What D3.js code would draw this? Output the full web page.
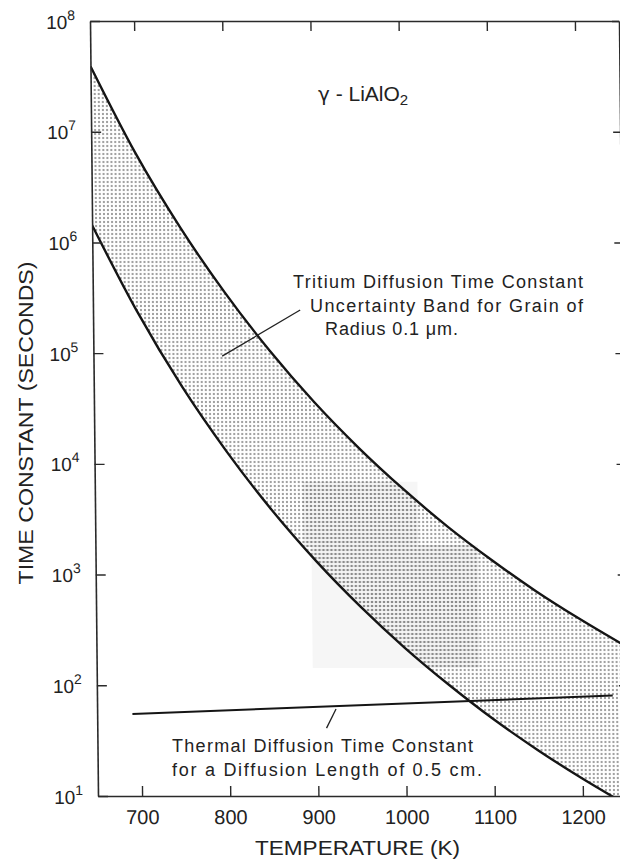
<!DOCTYPE html>
<html>
<head>
<meta charset="utf-8">
<script src="https://cdn.jsdelivr.net/npm/d3@7"></script>
<style>
  html, body { margin: 0; padding: 0; background: #fff; }
  svg { display: block; }
  text { font-family: "Liberation Sans", "DejaVu Sans", sans-serif; fill: #222; }
</style>
</head>
<body>
<svg id="chart" width="620" height="861"></svg>
<script>
// Temperature grid (K) for the tritium band edges
const temperatures = [650, 700, 750, 800, 850, 900, 950, 1000, 1050, 1100, 1150, 1200, 1250];
// Upper edge of the tritium diffusion time-constant band (s)
const tritiumUpper = [3.9e7, 6.4e6, 1.36e6, 3.5e5, 1.05e5, 3.6e4, 1.39e4, 5.9e3, 2.7e3, 1.34e3, 700, 390, 226];
// Lower edge of the band (s)
const tritiumLower = [1.43e6, 2.38e5, 5.0e4, 1.29e4, 3.87e3, 1.33e3, 513, 217, 100, 49, 25.8, 14.3, 8.3];
// Thermal diffusion time constant, 0.5 cm diffusion length
const thermalTemps = [690, 1235];
const thermalValues = [55, 81];
// Axis ticks
const xTicks = [700, 800, 900, 1000, 1100, 1200];
const yTicks = [1e1, 1e2, 1e3, 1e4, 1e5, 1e6, 1e7, 1e8];
const yExponents = ["1", "2", "3", "4", "5", "6", "7", "8"];
// Leader lines: [temperature, time constant] pairs
const bandLeader = [[796, 9.4e4], [885, 2.45e5]];
const thermalLeader = [[921, 61], [910, 41]];
// Faint grey toner patch over the middle of the band, [temperature, time constant]
const tonerPatch = [[886, 6.9e3], [1016, 6.9e3], [1016, 1.85e3], [1084, 1.85e3], [1084, 143],
                    [895, 143], [895, 1.77e3], [886, 1.77e3]];

const svg = d3.select("#chart");
const plotLeft = 98, plotRight = 627, plotTop = 21, plotBottom = 796;

const x = d3.scaleLinear().domain([650, 1250]).range([plotLeft, plotRight]);
const y = d3.scaleLog().domain([10, 1e8]).range([plotBottom, plotTop]);

// The drawing frame leans slightly, pivoting on the bottom axis
const lean = Math.atan(8 / 775) * 180 / Math.PI;
const g = svg.append("g")
  .attr("transform", `translate(0,${plotBottom}) skewX(${lean}) translate(0,${-plotBottom})`);

const defs = svg.append("defs");
defs.append("clipPath").attr("id", "plotClip")
  .append("rect").attr("x", plotLeft).attr("y", plotTop)
  .attr("width", plotRight - plotLeft).attr("height", plotBottom - plotTop);

const dots = defs.append("pattern").attr("id", "stipple")
  .attr("patternUnits", "userSpaceOnUse").attr("width", 4).attr("height", 4);
dots.append("circle").attr("cx", 2).attr("cy", 2).attr("r", 0.85).attr("fill", "#2a2a2a");

const dashes = defs.append("pattern").attr("id", "streaks")
  .attr("patternUnits", "userSpaceOnUse").attr("width", 4).attr("height", 4);
dashes.append("rect").attr("x", 0.5).attr("y", 1.5).attr("width", 3).attr("height", 1)
  .attr("fill", "#555").attr("opacity", 0.5);

const patchLine = d3.line().x(d => x(d[0])).y(d => y(d[1]));
defs.append("clipPath").attr("id", "patchClip")
  .append("path").attr("d", patchLine(tonerPatch) + "Z");

const band = temperatures.map((t, i) => ({ t, hi: tritiumUpper[i], lo: tritiumLower[i] }));
const bandArea = d3.area().x(d => x(d.t)).y0(d => y(d.lo)).y1(d => y(d.hi)).curve(d3.curveMonotoneX);

const plot = g.append("g").attr("clip-path", "url(#plotClip)");

// Toner patch
plot.append("path").attr("d", patchLine(tonerPatch) + "Z")
  .attr("fill", "#000").attr("opacity", 0.035);

// Uncertainty band
plot.append("path").datum(band).attr("fill", "url(#stipple)").attr("d", bandArea);
plot.append("g").attr("clip-path", "url(#patchClip)")
  .append("path").datum(band).attr("fill", "url(#streaks)").attr("d", bandArea);

// Band edges
const edge = key => d3.line().x(d => x(d.t)).y(d => y(d[key])).curve(d3.curveMonotoneX);
plot.append("path").datum(band).attr("fill", "none").attr("stroke", "#151515")
  .attr("stroke-width", 2.4).attr("d", edge("hi"));
plot.append("path").datum(band).attr("fill", "none").attr("stroke", "#151515")
  .attr("stroke-width", 2.4).attr("d", edge("lo"));

// Thermal diffusion line
plot.append("path").datum(thermalTemps.map((t, i) => [t, thermalValues[i]]))
  .attr("fill", "none").attr("stroke", "#151515").attr("stroke-width", 2)
  .attr("d", d3.line().x(d => x(d[0])).y(d => y(d[1])));

// Leaders
[bandLeader, thermalLeader].forEach(seg => {
  plot.append("path").datum(seg).attr("fill", "none").attr("stroke", "#222")
    .attr("stroke-width", 1.3)
    .attr("d", d3.line().x(d => x(d[0])).y(d => y(d[1])));
});

// Axes
function styleAxis(sel) {
  sel.select(".domain").attr("stroke", "#2a2a2a").attr("stroke-width", 1.6);
  sel.selectAll(".tick line").attr("stroke", "#2a2a2a").attr("stroke-width", 1.4);
}

const xAxis = g.append("g").attr("transform", `translate(0,${plotBottom})`)
  .call(d3.axisBottom(x).tickValues(xTicks).tickSizeInner(-10).tickSizeOuter(0)
    .tickPadding(14).tickFormat(d3.format("d")))
  .call(styleAxis);
xAxis.selectAll(".tick text")
  .attr("font-family", "Liberation Sans, DejaVu Sans, sans-serif")
  .attr("font-size", 20).attr("fill", "#222");

g.append("g").attr("transform", `translate(0,${plotTop})`)
  .call(d3.axisTop(x).tickValues(xTicks).tickSizeInner(-10).tickSizeOuter(0).tickFormat(""))
  .call(styleAxis);

const yAxis = g.append("g").attr("transform", `translate(${plotLeft},0)`)
  .call(d3.axisLeft(y).tickValues(yTicks).tickSizeInner(-10).tickSizeOuter(0).tickFormat(""))
  .call(styleAxis);

g.append("g").attr("transform", `translate(${plotRight},0)`)
  .call(d3.axisRight(y).tickValues(yTicks).tickSizeInner(-7).tickSizeOuter(0).tickFormat(""))
  .call(styleAxis);

yAxis.selectAll(".tick").each(function (d) {
  const t = d3.select(this).append("text")
    .attr("x", -15).attr("y", 7).attr("text-anchor", "end")
    .attr("font-size", 19).attr("fill", "#222")
    .attr("font-family", "Liberation Sans, DejaVu Sans, sans-serif");
  t.append("tspan").text("10");
  t.append("tspan").attr("dy", -9).attr("font-size", 14).text(yExponents[yTicks.indexOf(d)]);
});

// Axis titles
svg.append("text").attr("x", 255).attr("y", 855)
  .attr("font-size", 21).attr("textLength", 205).attr("lengthAdjust", "spacingAndGlyphs")
  .text("TEMPERATURE (K)");

svg.append("text").attr("transform", "translate(33,423) rotate(-90)")
  .attr("text-anchor", "middle").attr("font-size", 21)
  .attr("textLength", 323).attr("lengthAdjust", "spacingAndGlyphs")
  .text("TIME CONSTANT (SECONDS)");

// Material label
const title = svg.append("text").attr("x", 318).attr("y", 101).attr("font-size", 21);
title.append("tspan").attr("font-family", "DejaVu Sans, sans-serif").attr("font-size", 20).text("γ");
title.append("tspan").text(" - LiAlO");
title.append("tspan").attr("dy", 4).attr("font-size", 15).text("2");

// Annotations
const note = (txt, x0, y0, len) => svg.append("text").attr("x", x0).attr("y", y0)
  .attr("font-size", 18).attr("textLength", len).attr("lengthAdjust", "spacing").text(txt);

note("Tritium Diffusion Time Constant", 293, 288, 290);
note("Uncertainty Band for Grain of", 310, 312, 273);
note("Radius 0.1 μm.", 325, 335, 133);
note("Thermal Diffusion Time Constant", 172, 752, 301);
note("for a Diffusion Length of 0.5 cm.", 172, 776, 310);
</script>
</body>
</html>
